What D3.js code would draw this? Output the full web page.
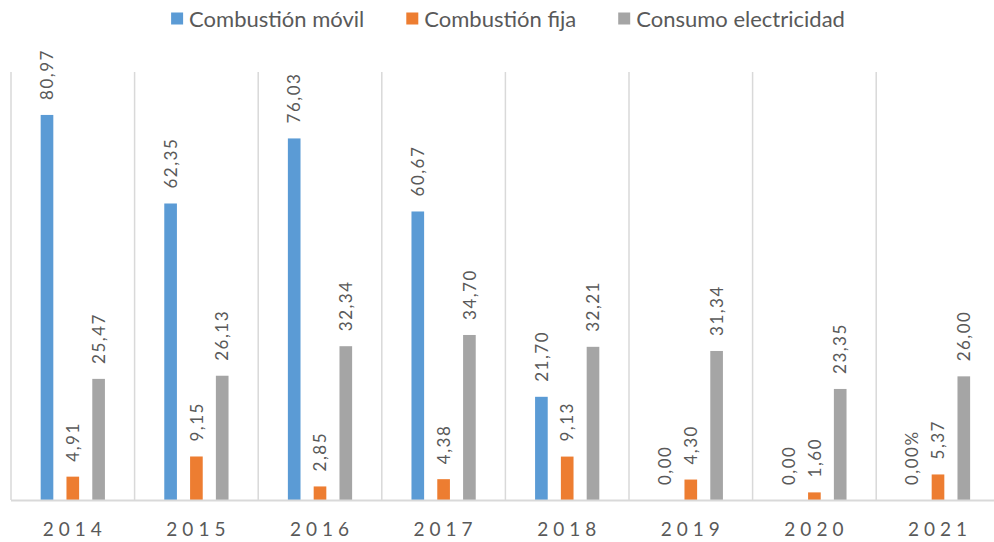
<!DOCTYPE html>
<html>
<head>
<meta charset="utf-8">
<script src="https://cdnjs.cloudflare.com/ajax/libs/d3/7.8.5/d3.min.js"></script>
<style>
  body { margin: 0; background: #fff; }
  svg { display: block; font-family: Lato, "Open Sans", sans-serif; }
</style>
</head>
<body>
<svg></svg>
<script>
  let years = ["2014", "2015", "2016", "2017", "2018", "2019", "2020", "2021"];
  let series = ["Combustión móvil", "Combustión fija", "Consumo electricidad"];
  let colors = ["#5B9BD5", "#ED7D31", "#A5A5A5"];

  let movil = [80.97, 62.35, 76.03, 60.67, 21.70, 0, 0, 0];
  let fija = [4.91, 9.15, 2.85, 4.38, 9.13, 4.30, 1.60, 5.37];
  let electricidad = [25.47, 26.13, 32.34, 34.70, 32.21, 31.34, 23.35, 26.00];

  let movilLabels = ["80,97", "62,35", "76,03", "60,67", "21,70", "0,00", "0,00", "0,00%"];
  let fijaLabels = ["4,91", "9,15", "2,85", "4,38", "9,13", "4,30", "1,60", "5,37"];
  let electricidadLabels = ["25,47", "26,13", "32,34", "34,70", "32,21", "31,34", "23,35", "26,00"];

  let width = 994, height = 542;
  let margin = {top: 72, bottom: 42, left: 11};
  let svg = d3.select("svg").attr("width", width).attr("height", height);

  let values = [movil, fija, electricidad];
  let labels = [movilLabels, fijaLabels, electricidadLabels];
  let baseline = height - margin.bottom;

  let scales = {
    year: d3.scaleBand().domain(years).range([margin.left, margin.left + 8 * 123.6]),
    serie: d3.scaleBand().domain(series).paddingInner(0.51).paddingOuter(1.15),
    value: d3.scaleLinear().domain([0, 90]).range([baseline, margin.top])
  };
  scales.serie.range([0, scales.year.bandwidth()]);

  // vertical separators between years
  let bounds = years.map(y => scales.year(y)).concat([scales.year.range()[1]]);
  svg.append("g").selectAll("line")
    .data(bounds)
    .enter().append("line")
    .attr("x1", d => d).attr("x2", d => d)
    .attr("y1", margin.top).attr("y2", baseline)
    .attr("stroke", "#D9D9D9").attr("stroke-width", 1.5);

  // flat rows for bars
  let rows = [];
  years.forEach(function(y, i){
    series.forEach(function(s, j){
      rows.push({year: y, serie: s, value: values[j][i], label: labels[j][i], color: colors[j]});
    });
  });

  let barsG = svg.append("g");
  barsG.selectAll("rect")
    .data(rows.filter(d => d.value > 0))
    .enter().append("rect")
    .attr("x", d => scales.year(d.year) + scales.serie(d.serie))
    .attr("y", d => scales.value(d.value))
    .attr("width", scales.serie.bandwidth())
    .attr("height", d => baseline - scales.value(d.value))
    .attr("fill", d => d.color);

  barsG.selectAll("text")
    .data(rows)
    .enter().append("text")
    .attr("transform", function(d){
      let cx = scales.year(d.year) + scales.serie(d.serie) + scales.serie.bandwidth() / 2;
      return "translate(" + cx + "," + (scales.value(d.value) - 15) + ") rotate(-90)";
    })
    .attr("dy", "0.36em")
    .attr("font-size", 17)
    .attr("letter-spacing", 1.5)
    .attr("fill", "#595959")
    .text(d => d.label);

  // x axis
  svg.append("line")
    .attr("x1", margin.left).attr("x2", width)
    .attr("y1", baseline + 0.5).attr("y2", baseline + 0.5)
    .attr("stroke", "#D9D9D9").attr("stroke-width", 2);

  svg.append("g").selectAll("text")
    .data(years)
    .enter().append("text")
    .attr("x", d => scales.year(d) + scales.year.bandwidth() / 2 + 2)
    .attr("y", 536)
    .attr("text-anchor", "middle")
    .attr("font-size", 19)
    .attr("letter-spacing", 5)
    .attr("fill", "#595959")
    .text(d => d);

  // legend
  let legend = svg.append("g");
  let lx = 0;
  series.forEach(function(s, i){
    let item = legend.append("g").attr("transform", "translate(" + lx + ",0)");
    item.append("rect").attr("x", 0).attr("y", 12.5).attr("width", 12).attr("height", 12).attr("fill", colors[i]);
    let t = item.append("text").attr("x", 18).attr("y", 27)
      .attr("font-size", 22).attr("fill", "#595959").text(s);
    lx += 18 + t.node().getComputedTextLength() + 42;
  });
  let legendWidth = lx - 42;
  legend.attr("transform", "translate(" + (508 - legendWidth / 2) + ",0)");
</script>
</body>
</html>
